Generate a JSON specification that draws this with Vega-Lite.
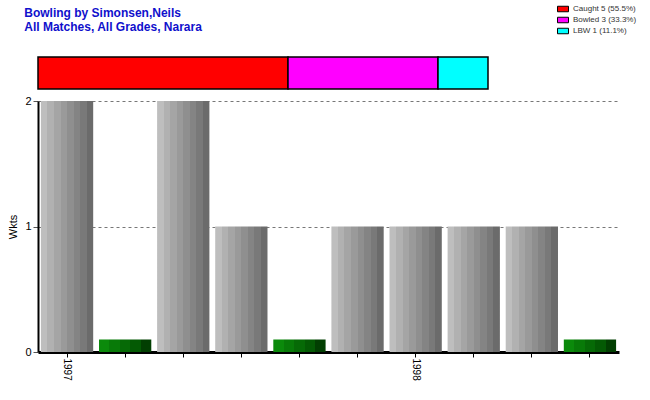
{
  "$schema": "https://vega.github.io/schema/vega-lite/v6.json",
  "padding": {"left": 7, "top": 3, "right": 5, "bottom": 5},
  "background": "white",
  "spacing": 12,
  "bounds": "flush",
  "config": {
    "view": {"stroke": null},
    "font": "Liberation Sans",
    "concat": {"spacing": 12}
  },
  "datasets": {
    "dismissals": [
      {"how": "Caught", "label": "Caught 5 (55.5%)", "count": 5, "order": 1},
      {"how": "Bowled", "label": "Bowled 3 (33.3%)", "count": 3, "order": 2},
      {"how": "LBW", "label": "LBW 1 (11.1%)", "count": 1, "order": 3}
    ],
    "matches": [
      {"idx": 1, "year": 1997, "wkts": 2},
      {"idx": 2, "year": 1997, "wkts": 0},
      {"idx": 3, "year": 1997, "wkts": 2},
      {"idx": 4, "year": 1997, "wkts": 1},
      {"idx": 5, "year": 1997, "wkts": 0},
      {"idx": 6, "year": 1997, "wkts": 1},
      {"idx": 7, "year": 1998, "wkts": 1},
      {"idx": 8, "year": 1998, "wkts": 1},
      {"idx": 9, "year": 1998, "wkts": 1},
      {"idx": 10, "year": 1998, "wkts": 0}
    ]
  },
  "resolve": {"scale": {"color": "shared"}, "legend": {"color": "shared"}},
  "vconcat": [
    {
      "width": 450,
      "height": 32,
      "title": {
        "text": ["Bowling by Simonsen,Neils", "All Matches, All Grades, Narara"],
        "anchor": "start",
        "fontSize": 12,
        "fontWeight": "bold",
        "color": "#1010CC",
        "lineHeight": 14,
        "offset": 22,
        "dx": -13,
        "font": "Liberation Sans"
      },
      "data": {"name": "dismissals"},
      "mark": {"type": "bar", "stroke": "black", "strokeWidth": 1.5},
      "encoding": {
        "x": {"field": "count", "type": "quantitative", "stack": "zero", "scale": {"domain": [0, 9], "nice": false}, "axis": null},
        "y": {"datum": "all", "type": "nominal", "scale": {"paddingInner": 0, "paddingOuter": 0}, "axis": null},
        "order": {"field": "order", "type": "quantitative"},
        "color": {
          "field": "label",
          "type": "nominal",
          "scale": {"domain": ["Caught 5 (55.5%)", "Bowled 3 (33.3%)", "LBW 1 (11.1%)"], "range": ["#FF0000", "#FF00FF", "#00FFFF"]},
          "legend": {
            "title": null,
            "orient": "none",
            "legendX": 519,
            "legendY": -54,
            "symbolType": "M-1,-0.5H1V0.5H-1Z",
            "symbolSize": 121,
            "symbolStrokeColor": "black",
            "symbolStrokeWidth": 1,
            "symbolOpacity": 1,
            "labelFontSize": 8,
            "labelColor": "#333333",
            "labelFont": "Liberation Sans",
            "rowPadding": 0,
            "labelOffset": 4
          }
        }
      }
    },
    {
      "width": 581,
      "height": 251,
      "data": {"name": "matches"},
      "encoding": {
        "x": {
          "field": "idx",
          "type": "ordinal",
          "scale": {"paddingInner": 0.1, "paddingOuter": 0.05},
          "axis": {
            "title": null,
            "labelExpr": "datum.value == 1 ? '1997' : datum.value == 7 ? '1998' : ''",
            "labelAngle": 90,
            "labelFontSize": 10,
            "labelColor": "black",
            "labelPadding": 1,
            "domainColor": "black",
            "domainWidth": 3,
            "tickColor": "black",
            "tickSize": 5,
            "labelBaseline": "middle",
            "labelAlign": "left"
          }
        },
        "y": {
          "field": "wkts",
          "type": "quantitative",
          "scale": {"domain": [0, 2], "nice": false},
          "axis": {
            "title": "Wkts",
            "tickCount": 2,
            "format": "d",
            "labelOverlap": false,
            "titleFontSize": 11,
            "titleFontWeight": "normal",
            "titleColor": "black",
            "titlePadding": 6,
            "labelFontSize": 11,
            "labelColor": "black",
            "labelPadding": 2,
            "domainColor": "black",
            "domainWidth": 2,
            "tickColor": "#555555",
            "tickSize": 5,
            "grid": true,
            "gridColor": "#777777",
            "gridDash": [3, 3],
            "gridWidth": 1
          }
        }
      },
      "layer": [
        {
          "transform": [{"filter": "datum.wkts > 0"}],
          "mark": {
            "type": "bar",
            "color": {
              "gradient": "linear",
              "x1": 0, "x2": 1, "y1": 0, "y2": 0,
              "stops": [
                {"offset": 0, "color": "#bebebe"},
                {"offset": 0.125, "color": "#bebebe"},
                {"offset": 0.125, "color": "#b1b1b1"},
                {"offset": 0.25, "color": "#b1b1b1"},
                {"offset": 0.25, "color": "#a5a5a5"},
                {"offset": 0.375, "color": "#a5a5a5"},
                {"offset": 0.375, "color": "#9a9a9a"},
                {"offset": 0.5, "color": "#9a9a9a"},
                {"offset": 0.5, "color": "#8f8f8f"},
                {"offset": 0.625, "color": "#8f8f8f"},
                {"offset": 0.625, "color": "#848484"},
                {"offset": 0.75, "color": "#848484"},
                {"offset": 0.75, "color": "#797979"},
                {"offset": 0.875, "color": "#797979"},
                {"offset": 0.875, "color": "#6b6b6b"},
                {"offset": 1, "color": "#6b6b6b"}
              ]
            }
          }
        },
        {
          "transform": [{"filter": "datum.wkts == 0"}],
          "mark": {
            "type": "bar",
            "color": {
              "gradient": "linear",
              "x1": 0, "x2": 1, "y1": 0, "y2": 0,
              "stops": [
                {"offset": 0, "color": "#0b8a0b"},
                {"offset": 0.2, "color": "#0b8a0b"},
                {"offset": 0.2, "color": "#087a08"},
                {"offset": 0.4, "color": "#087a08"},
                {"offset": 0.4, "color": "#066a06"},
                {"offset": 0.6, "color": "#066a06"},
                {"offset": 0.6, "color": "#045a04"},
                {"offset": 0.8, "color": "#045a04"},
                {"offset": 0.8, "color": "#023f02"},
                {"offset": 1, "color": "#023f02"}
              ]
            }
          },
          "encoding": {
            "y2": {"datum": 0.1}
          }
        }
      ]
    }
  ]
}
